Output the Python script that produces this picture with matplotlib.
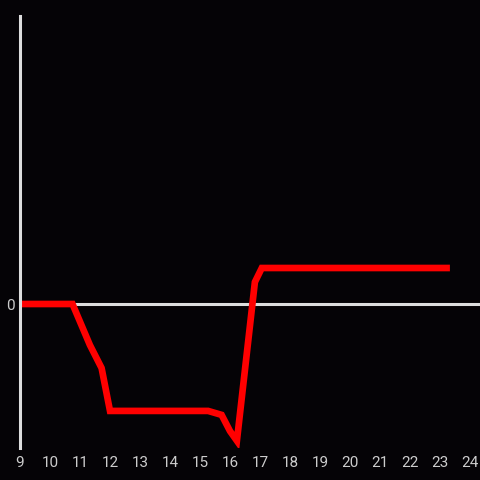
import matplotlib
matplotlib.use("Agg")
import matplotlib.pyplot as plt

x_vals = [9, 10.75, 11.33, 11.72, 12.0, 15.27, 15.72, 16.0, 16.23, 16.83, 17.06, 23.33]
y_vals = [0, 0, -1.14, -1.78, -2.97, -2.97, -3.08, -3.53, -3.8, 0.61, 1.0, 1.0]
x_ticks = list(range(9, 25))

bg = "#050306"
fig = plt.figure(figsize=(4.8, 4.8), dpi=100, facecolor=bg)
ax = fig.add_axes([20/480, 32/480, 460/480, 432/480], facecolor=bg)
ax.set_xlim(9, 9 + 460/30)
ax.set_ylim(-4, 8)

ax.axhline(0, color="#dddddd", lw=2.2, zorder=1)
ax.plot(x_vals, y_vals, color="#ff0000", lw=4.8, solid_capstyle="butt", solid_joinstyle="miter", zorder=2)

for s in ["top", "right", "bottom"]:
    ax.spines[s].set_visible(False)
ax.spines["left"].set_color("#dddddd")
ax.spines["left"].set_linewidth(2.2)

ax.set_xticks(x_ticks)
ax.set_xticklabels([str(t) for t in x_ticks])
ax.set_yticks([0])
ax.set_yticklabels(["0"])
ax.tick_params(axis="both", length=0, colors="#cccccc", labelsize=11)
ax.tick_params(axis="x", pad=5.5)
ax.tick_params(axis="y", pad=4)
for lbl in ax.get_xticklabels() + ax.get_yticklabels():
    lbl.set_fontfamily("Roboto")

fig.savefig("out.png", dpi=100, facecolor=bg)
